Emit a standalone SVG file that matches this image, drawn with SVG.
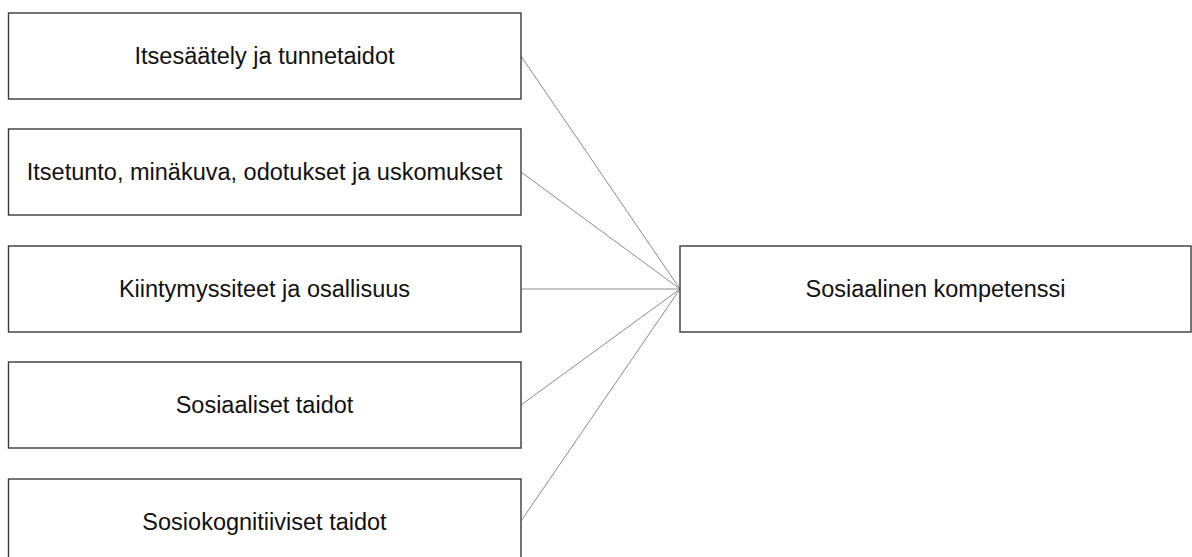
<svg xmlns="http://www.w3.org/2000/svg" width="1192" height="557" viewBox="0 0 1192 557">
<style>
.box{fill:#ffffff;stroke:#3a3a3a;stroke-width:1.4}
.lbl{font-family:"Liberation Sans",Arial,sans-serif;font-size:23.5px;fill:#111111;text-anchor:middle}
.conn{stroke:#8a8a8a;stroke-width:1;fill:none}
</style>
<rect width="1192" height="557" fill="#ffffff"/>
<g id="connectors">
<line class="conn" x1="521" y1="56" x2="680" y2="289"/>
<line class="conn" x1="521" y1="172" x2="680" y2="289"/>
<line class="conn" x1="521" y1="289" x2="680" y2="289"/>
<line class="conn" x1="521" y1="405" x2="680" y2="289"/>
<line class="conn" x1="521" y1="521" x2="680" y2="289"/>
</g>
<g id="n1"><rect class="box" x="8.5" y="13" width="512.5" height="86"/><text class="lbl" x="264.5" y="64">Itsesäätely ja tunnetaidot</text></g>
<g id="n2"><rect class="box" x="8.5" y="129" width="512.5" height="86"/><text class="lbl" x="264.5" y="180">Itsetunto, minäkuva, odotukset ja uskomukset</text></g>
<g id="n3"><rect class="box" x="8.5" y="246" width="512.5" height="86"/><text class="lbl" x="264.5" y="297">Kiintymyssiteet ja osallisuus</text></g>
<g id="n4"><rect class="box" x="8.5" y="362" width="512.5" height="86"/><text class="lbl" x="264.5" y="413">Sosiaaliset taidot</text></g>
<g id="n5"><rect class="box" x="8.5" y="479" width="512.5" height="86"/><text class="lbl" x="264.5" y="530">Sosiokognitiiviset taidot</text></g>
<g id="center"><rect class="box" x="680" y="246" width="511" height="86"/><text class="lbl" x="935.5" y="297">Sosiaalinen kompetenssi</text></g>
</svg>
